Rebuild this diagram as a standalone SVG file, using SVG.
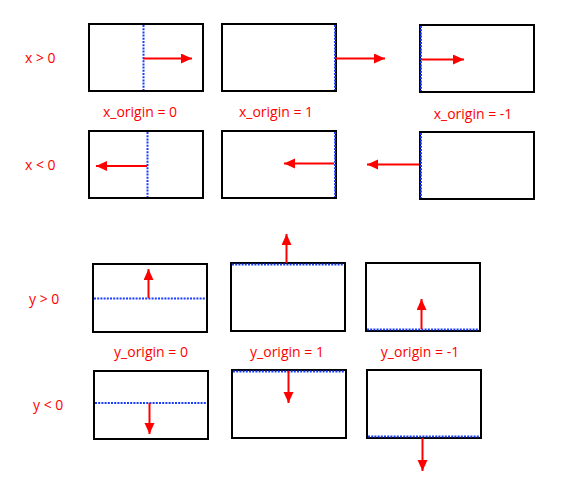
<svg xmlns="http://www.w3.org/2000/svg" width="561" height="483" viewBox="0 0 561 483">
<style>
.box{fill:#fff;stroke:#000;stroke-width:2}
.dot{stroke:#1a3cff;stroke-width:2;stroke-dasharray:2 1.2;fill:none}
.arr{stroke:#ff0000;stroke-width:2;fill:none;marker-end:url(#ah)}
text{font-family:"Open Sans","Liberation Sans",sans-serif;font-size:14px;fill:#ff0000;dominant-baseline:central}
.c{text-anchor:middle}
</style>
<defs>
<marker id="ah" markerUnits="userSpaceOnUse" markerWidth="14" markerHeight="12" refX="11" refY="5" orient="auto">
<polygon points="0,0 11,5 0,10" fill="#ff0000"/>
</marker>
</defs>
<rect width="561" height="483" fill="#fff"/>
<g id="labels">
<text x="25" y="57">x &gt; 0</text>
<text x="25" y="164">x &lt; 0</text>
<text x="140" y="111" class="c">x_origin = 0</text>
<text x="276" y="111" class="c">x_origin = 1</text>
<text x="473" y="113" class="c">x_origin = -1</text>
<text x="29" y="298">y &gt; 0</text>
<text x="33" y="404">y &lt; 0</text>
<text x="151" y="351" class="c">y_origin = 0</text>
<text x="287" y="351" class="c">y_origin = 1</text>
<text x="420" y="351" class="c">y_origin = -1</text>
</g>
<g id="xpos-0"><rect class="box" x="89" y="24" width="114" height="67"/><line class="dot" x1="143.5" y1="25" x2="143.5" y2="90"/></g>
<g id="xpos-1"><rect class="box" x="222" y="24" width="114" height="67"/><line class="dot" x1="335" y1="25" x2="335" y2="90"/></g>
<g id="xpos-m1"><rect class="box" x="420" y="25" width="114" height="67"/><line class="dot" x1="421" y1="26" x2="421" y2="91"/></g>
<g id="xneg-0"><rect class="box" x="89" y="131" width="114" height="67"/><line class="dot" x1="147.5" y1="132" x2="147.5" y2="197"/></g>
<g id="xneg-1"><rect class="box" x="222" y="131" width="114" height="67"/><line class="dot" x1="335" y1="132" x2="335" y2="197"/></g>
<g id="xneg-m1"><rect class="box" x="420" y="132" width="114" height="67"/><line class="dot" x1="421" y1="133" x2="421" y2="198"/></g>
<g id="ypos-0"><rect class="box" x="93" y="264" width="114" height="68"/><line class="dot" x1="94" y1="298.5" x2="206" y2="298.5"/></g>
<g id="ypos-1"><rect class="box" x="231" y="263" width="114" height="68"/><line class="dot" x1="232" y1="264.5" x2="344" y2="264.5"/></g>
<g id="ypos-m1"><rect class="box" x="366" y="263" width="114" height="68"/><line class="dot" x1="367" y1="329.5" x2="479" y2="329.5"/></g>
<g id="yneg-0"><rect class="box" x="94" y="371" width="114" height="68"/><line class="dot" x1="95" y1="403" x2="207" y2="403"/></g>
<g id="yneg-1"><rect class="box" x="232" y="370" width="114" height="68"/><line class="dot" x1="233" y1="371.5" x2="345" y2="371.5"/></g>
<g id="yneg-m1"><rect class="box" x="367" y="370" width="114" height="68"/><line class="dot" x1="368" y1="436.5" x2="480" y2="436.5"/></g>
<g id="connectors">
<line class="arr" x1="143" y1="58.5" x2="192" y2="58.5"/>
<line class="arr" x1="336" y1="58.5" x2="385" y2="58.5"/>
<line class="arr" x1="421" y1="59.5" x2="464" y2="59.5"/>
<line class="arr" x1="147" y1="166" x2="96" y2="166"/>
<line class="arr" x1="334" y1="163.5" x2="284" y2="163.5"/>
<line class="arr" x1="419" y1="164.5" x2="367" y2="164.5"/>
<line class="arr" x1="148.5" y1="298" x2="148.5" y2="269"/>
<line class="arr" x1="286.5" y1="263" x2="286.5" y2="234"/>
<line class="arr" x1="421.5" y1="329" x2="421.5" y2="299"/>
<line class="arr" x1="149.5" y1="403" x2="149.5" y2="434"/>
<line class="arr" x1="288.5" y1="371" x2="288.5" y2="403"/>
<line class="arr" x1="422.5" y1="438" x2="422.5" y2="471"/>
</g>
</svg>
